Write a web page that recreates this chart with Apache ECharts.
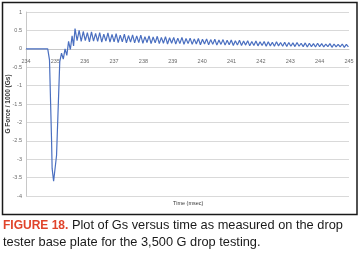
<!DOCTYPE html>
<html>
<head>
<meta charset="utf-8">
<script src="https://cdn.jsdelivr.net/npm/echarts@6/dist/echarts.min.js"></script>
<style>
html,body{margin:0;padding:0;background:#fff;}
#chart{width:360px;height:254px;}
</style>
</head>
<body>
<div id="chart"></div>
<script>
// Time (msec) samples
const timeMs = [
  234, 234.74, 234.80, 234.87, 234.89, 234.94, 235.04, 235.15,
  235.21, 235.27, 235.33, 235.39, 235.45, 235.51, 235.57, 235.62,
  235.67,235.74,235.81,235.88,235.95,236.02,236.09,236.16,236.23,236.30,
  236.37,236.44,236.51,236.58,236.65,236.72,236.79,236.86,236.93,237.00,
  237.07,237.14,237.21,237.28,237.35,237.42,237.49,237.56,237.63,237.70,
  237.77,237.84,237.91,237.98,238.05,238.12,238.19,238.26,238.33,238.40,
  238.47,238.54,238.61,238.68,238.75,238.82,238.89,238.96,239.03,239.10,
  239.17,239.24,239.31,239.38,239.45,239.52,239.59,239.66,239.73,239.80,
  239.87,239.94,240.01,240.08,240.15,240.22,240.29,240.36,240.43,240.50,
  240.57,240.64,240.71,240.78,240.85,240.92,240.99,241.06,241.13,241.20,
  241.27,241.34,241.41,241.48,241.55,241.62,241.69,241.76,241.83,241.90,
  241.97,242.04,242.11,242.18,242.25,242.32,242.39,242.46,242.53,242.60,
  242.67,242.74,242.81,242.88,242.95,243.02,243.09,243.16,243.23,243.30,
  243.37,243.44,243.51,243.58,243.65,243.72,243.79,243.86,243.93,244.00,
  244.07,244.14,244.21,244.28,244.35,244.42,244.49,244.56,244.63,244.70,
  244.77,244.84,244.91,244.98
];
// G Force / 1000 (Gs) values
const gForce = [
  0, 0, -0.3, -2.47, -3.25, -3.6, -2.9, -0.35,
  -0.12, -0.28, 0.0, -0.18, 0.2, -0.02, 0.35, 0.08,
  0.55,0.22,0.50,0.20,0.47,0.22,0.44,0.19,0.46,0.21,
  0.42,0.20,0.44,0.18,0.40,0.21,0.43,0.18,0.39,0.19,
  0.41,0.17,0.37,0.19,0.40,0.16,0.36,0.18,0.38,0.16,
  0.35,0.17,0.37,0.15,0.33,0.17,0.35,0.14,0.32,0.16,
  0.34,0.14,0.31,0.15,0.33,0.13,0.30,0.15,0.31,0.13,
  0.29,0.14,0.31,0.12,0.28,0.14,0.29,0.12,0.27,0.13,
  0.28,0.11,0.26,0.13,0.27,0.11,0.25,0.12,0.26,0.10,
  0.24,0.12,0.25,0.10,0.23,0.11,0.24,0.09,0.22,0.10,
  0.23,0.09,0.21,0.10,0.22,0.08,0.20,0.09,0.21,0.08,
  0.19,0.09,0.20,0.07,0.19,0.08,0.18,0.07,0.19,0.08,
  0.17,0.07,0.18,0.06,0.17,0.07,0.16,0.06,0.17,0.07,
  0.15,0.06,0.16,0.05,0.15,0.06,0.14,0.05,0.15,0.06,
  0.14,0.05,0.13,0.06,0.14,0.04,0.13,0.05,0.12,0.05,
  0.13,0.04,0.12,0.05
];
const yTicks = [-4, 1, 0.5];   // min, max, step
const xTicks = [234, 245, 1];  // min, max, step
const yTitle = 'G Force / 1000 (Gs)';
const xTitle = 'Time (msec)';
const captionLabel = 'FIGURE 18.';
const captionText = ' Plot of Gs versus time as measured on the drop\ntester base plate for the 3,500 G drop testing.';

const seriesData = timeMs.map((t, i) => [t, gForce[i]]);
const FONT = 'Liberation Sans, Arial, sans-serif';
const GRID = {left: 26, right: 11, top: 12, bottom: 58};

const chart = echarts.init(document.getElementById('chart'), null, {renderer: 'canvas'});
const option = {
  animation: false,
  backgroundColor: '#ffffff',
  grid: Object.assign({containLabel: false, outerBoundsMode: 'none'}, GRID),
  title: {
    left: 3, top: 217, padding: 0,
    text: '{r|' + captionLabel + '}{t|' + captionText.split('\n')[0] + '}\n{t|' + captionText.split('\n')[1] + '}',
    textStyle: {
      fontFamily: FONT, fontSize: 12.8, fontWeight: 'normal', color: '#1a1a1a', lineHeight: 17,
      rich: {
        r: {fontFamily: FONT, fontSize: 12, fontWeight: 'bold', color: '#e0432a', lineHeight: 17},
        t: {fontFamily: FONT, fontSize: 12.8, color: '#1a1a1a', lineHeight: 17}
      }
    }
  },
  xAxis: {
    type: 'value', min: xTicks[0], max: xTicks[1], interval: xTicks[2],
    position: 'bottom',
    axisLine: {onZero: false, lineStyle: {color: '#c8c8c8', width: 1}},
    axisTick: {show: false},
    splitLine: {show: false},
    axisLabel: {fontSize: 5.5, color: '#6a6a6a', margin: 10, fontFamily: FONT}
  },
  yAxis: {
    type: 'value', min: yTicks[0], max: yTicks[1], interval: yTicks[2],
    name: yTitle, nameLocation: 'middle', nameRotate: 90, nameGap: 14,
    nameMoveOverlap: false,
    nameTextStyle: {fontSize: 6.5, color: '#3a3a3a', fontWeight: 'bold', fontFamily: FONT},
    axisLine: {show: true, lineStyle: {color: '#c8c8c8', width: 1}},
    axisTick: {show: false},
    splitLine: {show: true, lineStyle: {color: '#d9d9d9', width: 1}},
    axisLabel: {fontSize: 5.5, color: '#6a6a6a', margin: 4, fontFamily: FONT}
  },
  series: [{
    type: 'line', data: seriesData, showSymbol: false, symbol: 'none',
    lineStyle: {color: '#4a6fc0', width: 1.2}, z: 3
  }],
  graphic: [
    {type: 'rect', shape: {x: 2.5, y: 2.5, width: 354.5, height: 212}, style: {fill: 'none', stroke: '#1a1a1a', lineWidth: 1.5}, z: 10},
    {type: 'text', left: 173, top: 200, style: {text: xTitle, fontSize: 5.5, fill: '#3a3a3a', fontFamily: FONT}, z: 10}
  ]
};
chart.setOption(option);
// move the x axis (line + labels) onto the zero value of the y axis
const zeroY = chart.convertToPixel({yAxisIndex: 0}, 0);
const bottomY = 254 - GRID.bottom;
chart.setOption({xAxis: {offset: -(bottomY - zeroY)}});
</script>
</body>
</html>
